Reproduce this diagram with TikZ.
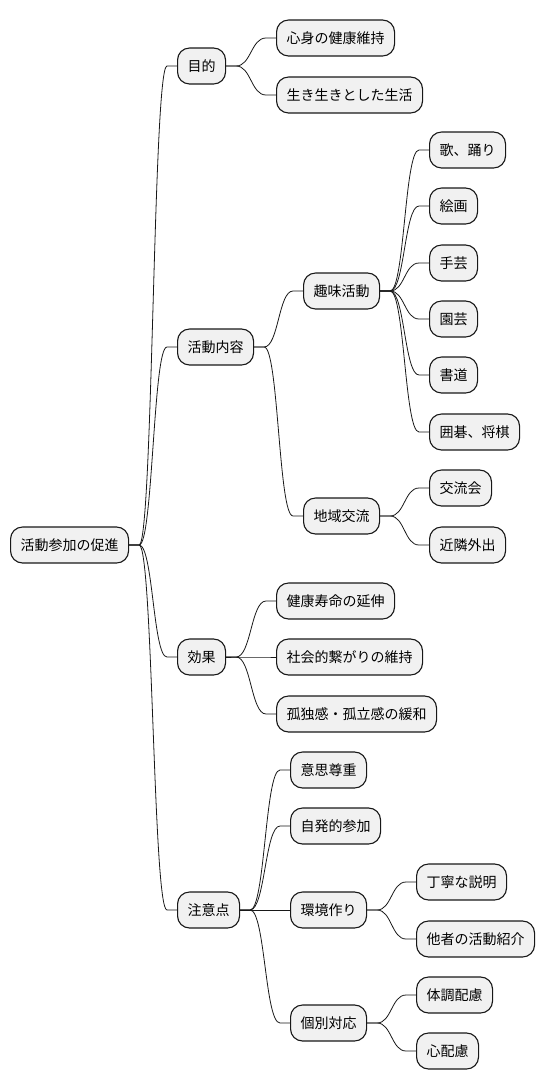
\documentclass[tikz,border=0pt]{standalone}
\usepackage{fontspec}
\newfontfamily\jp{Noto Sans CJK JP}
\usetikzlibrary{positioning, calc}
\definecolor{topicfill}{HTML}{F1F1F1}
\definecolor{topicline}{HTML}{181818}

\begin{document}
\begin{tikzpicture}[x=1pt,y=-1pt,
  topic/.style={draw=topicline, line width=1.1pt, fill=topicfill, rounded corners=12pt,
    minimum height=36pt, inner xsep=10pt, inner ysep=0pt, anchor=west,
    font=\jp\fontsize{14pt}{16pt}\selectfont},
  branch/.style={draw=topicline, line width=0.8pt,
    to path={let \p1=(\tikztostart.east), \p2=(\tikztotarget.west) in
      (\p1) -- (\x1+10pt,\y1)
      .. controls ({(\x1+\x2)/2},\y1) and ({(\x1+\x2)/2},\y2) .. (\x2-10pt,\y2)
      -- (\p2)}}]
  \useasboundingbox (0,0) rectangle (544,1090);

  \node[topic] (root) at (10,545) {活動参加の促進};

  \node[topic] (mokuteki) at (177,66) {目的};
  \node[topic] (naiyo) at (177,347) {活動内容};
  \node[topic] (koka) at (177,657) {効果};
  \node[topic] (chui) at (177,910) {注意点};

  \node[topic] (shinshin) at (276,38) {心身の健康維持};
  \node[topic] (ikiiki) at (276,95) {生き生きとした生活};

  \node[topic] (shumi) at (303,291) {趣味活動};
  \node[topic] (chiiki) at (303,516) {地域交流};
  \node[topic] (uta) at (429,150) {歌、踊り};
  \node[topic] (kaiga) at (429,206) {絵画};
  \node[topic] (shugei) at (429,263) {手芸};
  \node[topic] (engei) at (429,319) {園芸};
  \node[topic] (shodo) at (429,375) {書道};
  \node[topic] (igo) at (429,432) {囲碁、将棋};
  \node[topic] (koryu) at (429,488) {交流会};
  \node[topic] (kinrin) at (429,545) {近隣外出};

  \node[topic] (jumyo) at (276,601) {健康寿命の延伸};
  \node[topic] (tsunagari) at (276,657) {社会的繋がりの維持};
  \node[topic] (kodoku) at (276,714) {孤独感・孤立感の緩和};

  \node[topic] (ishi) at (290,770) {意思尊重};
  \node[topic] (jihatsu) at (290,826) {自発的参加};
  \node[topic] (kankyo) at (290,910) {環境作り};
  \node[topic] (kobetsu) at (290,1023) {個別対応};
  \node[topic] (teinei) at (416,882) {丁寧な説明};
  \node[topic] (tasha) at (416,939) {他者の活動紹介};
  \node[topic] (taicho) at (416,995) {体調配慮};
  \node[topic] (kokoro) at (416,1051) {心配慮};

  \path
    (root) edge[branch] (mokuteki)
           edge[branch] (naiyo)
           edge[branch] (koka)
           edge[branch] (chui)
    (mokuteki) edge[branch] (shinshin)
               edge[branch] (ikiiki)
    (naiyo) edge[branch] (shumi)
            edge[branch] (chiiki)
    (shumi) edge[branch] (uta)
            edge[branch] (kaiga)
            edge[branch] (shugei)
            edge[branch] (engei)
            edge[branch] (shodo)
            edge[branch] (igo)
    (chiiki) edge[branch] (koryu)
             edge[branch] (kinrin)
    (koka) edge[branch] (jumyo)
           edge[branch] (tsunagari)
           edge[branch] (kodoku)
    (chui) edge[branch] (ishi)
           edge[branch] (jihatsu)
           edge[branch] (kankyo)
           edge[branch] (kobetsu)
    (kankyo) edge[branch] (teinei)
             edge[branch] (tasha)
    (kobetsu) edge[branch] (taicho)
              edge[branch] (kokoro);
\end{tikzpicture}
\end{document}
